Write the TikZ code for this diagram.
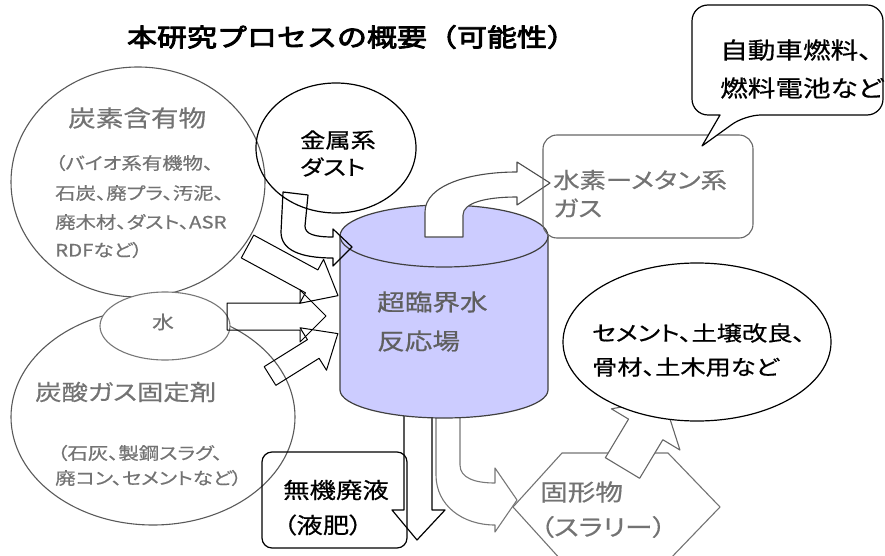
\documentclass[tikz,border=0pt]{standalone}
\usepackage{fontspec}
\newfontfamily\jp{Noto Sans CJK JP}[FakeStretch=1.2,FakeBold=0.6,RawFeature=+palt]
\newfontfamily\jpt{Noto Sans CJK JP}[FakeStretch=1.2,FakeBold=3.5]
\definecolor{cyl}{RGB}{204,204,255}
\definecolor{tgray}{RGB}{115,115,115}
\definecolor{tdark}{RGB}{95,95,95}
\definecolor{lgray}{RGB}{120,120,120}
\tikzset{
  jt/.style={anchor=west,inner sep=0pt,font=\jp\fontsize{#1}{#1}\selectfont},
  blk/.style={draw=black,line width=1.2pt},
  gry/.style={draw=lgray,line width=1.1pt},
}
\begin{document}
\begin{tikzpicture}[x=1pt,y=-1pt,line join=round]
\useasboundingbox (0,0) rectangle (885,556);
\clip (0,0) rectangle (885,556);

% input circles
\path[gry,draw=black!65] (138,182) ellipse [x radius=127, y radius=115];
\path[gry,draw=black!65] (153,417) ellipse [x radius=142, y radius=108];
\path[gry,fill=white] (165,326) ellipse [x radius=65, y radius=34];
\path[blk] (336,148) ellipse [x radius=80, y radius=65];

% arrow from carbon circle
\begin{scope}[shift={(247.5,246.5)},rotate=-28.5]
\path[blk,line width=1pt] (0,-13) -- (73,-13) -- (73,-25) -- (103,0) -- (73,25) -- (73,13) -- (0,13) -- cycle;
\end{scope}
% arrow from water
\path[blk,line width=1pt] (227,303) -- (300,303) -- (300,290) -- (326,316) -- (300,342) -- (300,330) -- (227,330) -- cycle;
% arrow from lower circle
\begin{scope}[shift={(270,376)},rotate=32]
\path[blk,line width=1pt] (0,-11) -- (51,-11) -- (51,-25) -- (80,0) -- (51,25) -- (51,11) -- (0,11) -- cycle;
\end{scope}

% output arrows at bottom
\path[blk] (404,412) -- (404,510) -- (392,510) -- (417,540) -- (445,510) -- (432,510) -- (432,412) -- cycle;
\path[gry] (436,412) -- (436,475) .. controls (436,505) and (462,525) .. (495,525) -- (495,532) -- (517,500) -- (495,468) -- (495,483) .. controls (475,483) and (460,478) .. (460,465) -- (460,412) -- cycle;

% cylinder
\path[draw=black!75,line width=1.2pt,fill=cyl] (340,236) -- (340,390) .. controls (340,405.5) and (386.6,418) .. (444,418) .. controls (501.4,418) and (548,405.5) .. (548,390) -- (548,236) -- cycle;
\path[draw=black!75,line width=1.2pt,fill=cyl] (444,236) ellipse [x radius=104, y radius=31];

% dust arrow
\path[blk] (283,192) -- (308,195) -- (305,226) .. controls (305,234) and (314,237) .. (333,237) -- (333,229) -- (352,247) -- (333,266) -- (333,258) .. controls (300,258) and (281,250) .. (281,232) -- cycle;

% gas arrow
\path[gry,draw=black!70,fill=white] (425,237) -- (425,212) .. controls (425,185) and (470,172) .. (517,172) -- (517,162) -- (550,183) -- (517,205) -- (517,197) .. controls (485,197) and (463,203) .. (463,215) -- (463,237) -- cycle;

% gas box
\path[gry,draw=black!60,rounded corners=14] (543,135) rectangle (753,238);
% callout for fuels
\path[blk,fill=white] (692,60) [rounded corners=16] -- (692,5) -- (883,5) -- (883,115) -- (745,115) [sharp corners] -- (702,146) -- (720,115) [rounded corners=16] -- (692,115) -- cycle;

% inorganic liquid box
\path[blk,rounded corners=10] (262,452) rectangle (407,548);

% solid hexagon
\path[gry,draw=black!55] (562,453) -- (668,453) -- (720,507) -- (668,561) -- (562,561) -- (513,507) -- cycle;
% arrow to cement callout
\begin{scope}[shift={(622.5,468)},rotate=59]
\path[gry,draw=black!60,fill=white] (0,-20) -- (45,-20) -- (45,-40) -- (80,0) -- (45,40) -- (45,20) -- (0,20) -- cycle;
\end{scope}
\path[blk,fill=white] (697,342) ellipse [x radius=134, y radius=79];

% texts
\node[inner sep=0pt,font=\jpt\fontsize{25}{25}\selectfont] (title) at (352,37) {本研究プロセスの概要（可能性）};
\node[jt=23,text=tgray] (c1) at (68,118) {炭素含有物};
\node[jt=17,text=tgray] (c2) at (55,163) {（バイオ系有機物、};
\node[jt=17,text=tgray] (c3) at (55,193) {石炭、廃プラ、汚泥、};
\node[jt=17,text=tgray] (c4) at (55,222) {廃木材、ダスト、ASR};
\node[jt=17,text=tgray] (c5) at (55,250) {RDFなど）};
\node[jt=21] (d1) at (300,140) {金属系};
\node[jt=21] (d2) at (300,167) {ダスト};
\node[inner sep=0pt,font=\jp\fontsize{18}{18}\selectfont,text=tgray] (w) at (163,322) {水};
\node[jt=22,text=tgray] (f1) at (35,392) {炭酸ガス固定剤};
\node[jt=17,text=tgray] (f2) at (57,453) {（石灰、製鋼スラグ、};
\node[jt=17,text=tgray] (f3) at (55,478) {廃コン、セメントなど）};
\node[jt=23,text=tdark] (r1) at (377,302) {超臨界水};
\node[jt=23,text=tdark] (r2) at (377,341) {反応場};
\node[jt=22,text=tgray] (g1) at (553,180) {水素ーメタン系};
\node[jt=22,text=tgray] (g2) at (553,208) {ガス};
\node[jt=23] (a1) at (720,50) {自動車燃料、};
\node[jt=23] (a2) at (720,88) {燃料電池など};
\node[jt=21] (s1) at (592,333) {セメント、土壌改良、};
\node[jt=21] (s2) at (592,367) {骨材、土木用など};
\node[jt=22] (m1) at (283,490) {無機廃液};
\node[jt=22] (m2) at (283,525) {（液肥）};
\node[jt=23,text=tgray] (k1) at (540,492) {固形物};
\node[jt=23,text=tgray] (k2) at (540,527) {（スラリー）};
\end{tikzpicture}
\end{document}
